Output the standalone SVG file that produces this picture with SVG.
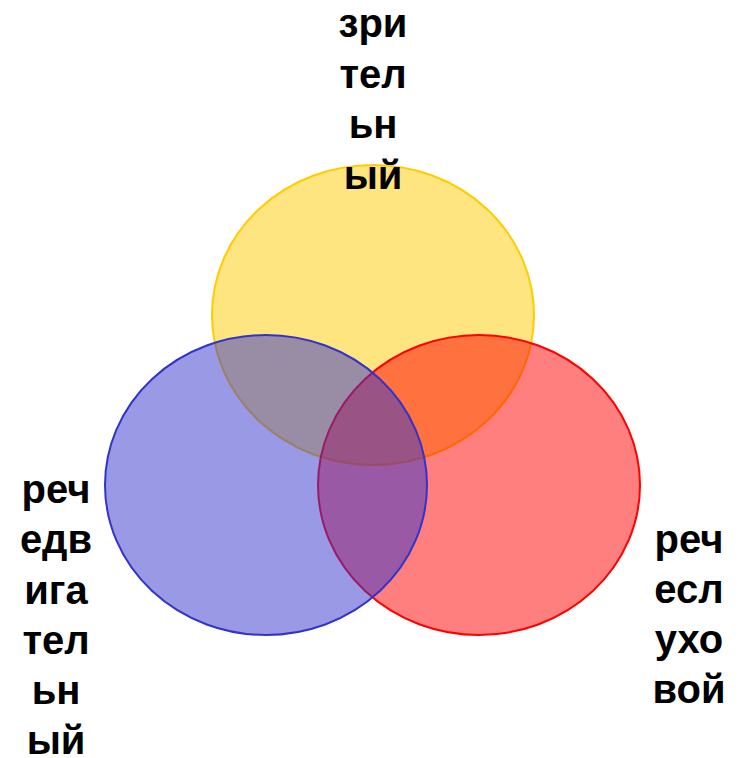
<svg xmlns="http://www.w3.org/2000/svg" width="740" height="758" viewBox="0 0 740 758">
<style>
.lbl{font-family:"Liberation Sans",Arial,sans-serif;font-weight:bold;font-size:40px;fill:#000;text-anchor:middle}
</style>
<rect width="740" height="758" fill="#fff"/>
<g id="yellow"><ellipse cx="373" cy="315" rx="161" ry="150" fill="#FFCC00" fill-opacity="0.5" stroke="#FFCC00" stroke-width="2"/></g>
<g id="red"><ellipse cx="479" cy="485" rx="161" ry="150" fill="#FF0000" fill-opacity="0.5" stroke="#FF0000" stroke-width="2"/></g>
<g id="blue"><ellipse cx="266" cy="485" rx="161" ry="150" fill="#3333CC" fill-opacity="0.5" stroke="#3333CC" stroke-width="2"/></g>
<g id="connectors"></g>
<g id="label-top">
<text class="lbl" x="373" y="37">зри</text>
<text class="lbl" x="373" y="87.5">тел</text>
<text class="lbl" x="373" y="138">ьн</text>
<text class="lbl" x="373" y="188.5">ый</text>
</g>
<g id="label-left">
<text class="lbl" x="56" y="503">реч</text>
<text class="lbl" x="56" y="553">едв</text>
<text class="lbl" x="56" y="603.5">ига</text>
<text class="lbl" x="56" y="654">тел</text>
<text class="lbl" x="56" y="704">ьн</text>
<text class="lbl" x="56" y="754">ый</text>
</g>
<g id="label-right">
<text class="lbl" x="689" y="553">реч</text>
<text class="lbl" x="689" y="603">есл</text>
<text class="lbl" x="689" y="653">ухо</text>
<text class="lbl" x="689" y="703">вой</text>
</g>
</svg>
